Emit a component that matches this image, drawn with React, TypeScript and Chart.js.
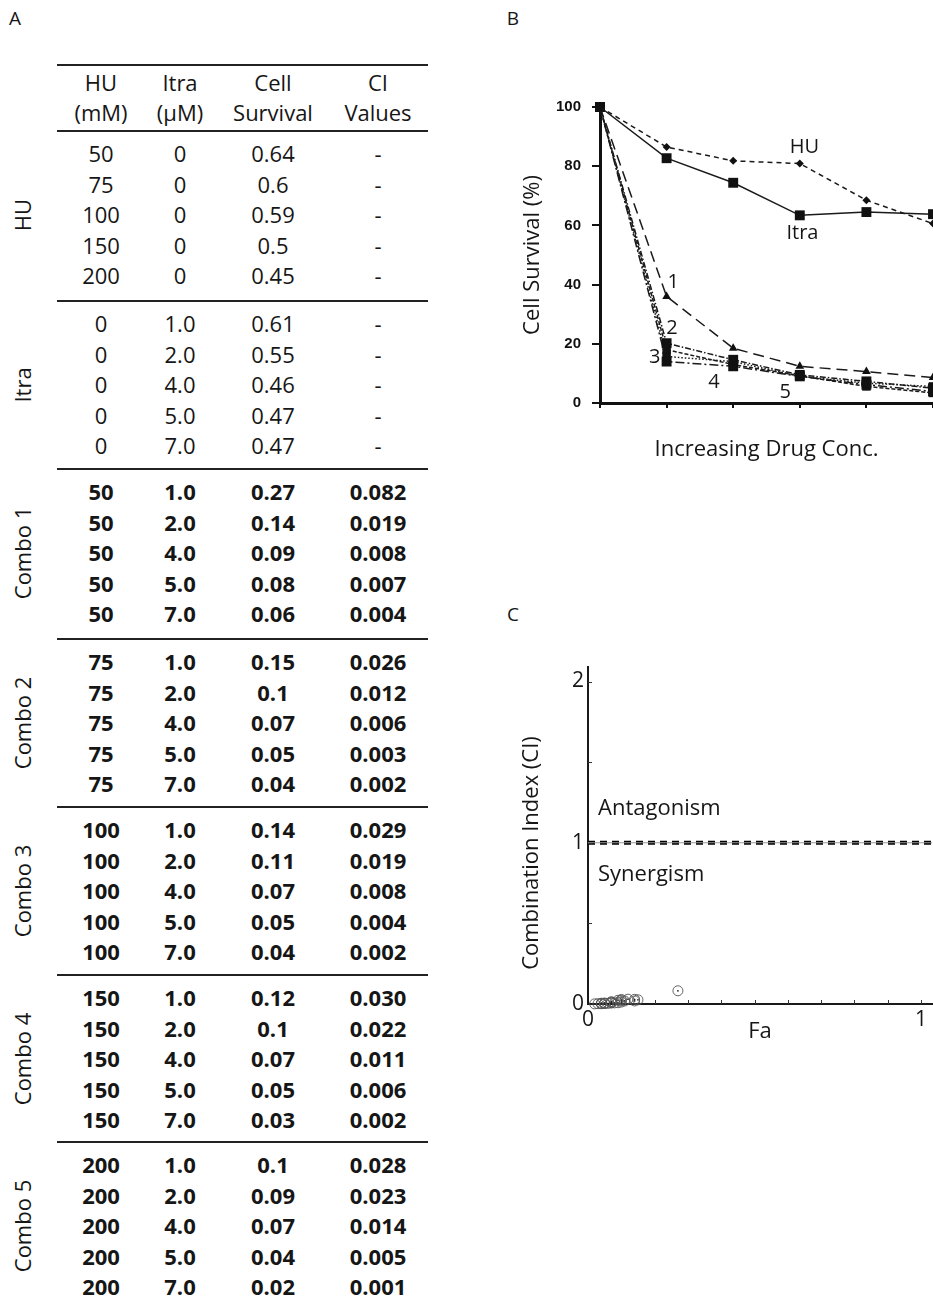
import React, { useEffect, useRef } from "react";
import { Chart, registerables } from "chart.js";

Chart.register(...registerables);

const FONT = '"Open Sans", "Noto Sans", sans-serif';
const INK = "#161616";

// ---------------- Panel A: table ----------------
const groupNames = ["HU", "Itra", "Combo 1", "Combo 2", "Combo 3", "Combo 4", "Combo 5"];
const boldGroups = [false, false, true, true, true, true, true];
const headerTop = ["HU", "Itra", "Cell", "CI"];
const headerBottom = ["(mM)", "(μM)", "Survival", "Values"];
const huConcMM = [
  "50", "75", "100", "150", "200",
  "0", "0", "0", "0", "0",
  "50", "50", "50", "50", "50",
  "75", "75", "75", "75", "75",
  "100", "100", "100", "100", "100",
  "150", "150", "150", "150", "150",
  "200", "200", "200", "200", "200",
];
const itraConcUM = [
  "0", "0", "0", "0", "0",
  "1.0", "2.0", "4.0", "5.0", "7.0",
  "1.0", "2.0", "4.0", "5.0", "7.0",
  "1.0", "2.0", "4.0", "5.0", "7.0",
  "1.0", "2.0", "4.0", "5.0", "7.0",
  "1.0", "2.0", "4.0", "5.0", "7.0",
  "1.0", "2.0", "4.0", "5.0", "7.0",
];
const cellSurvival = [
  0.64, 0.6, 0.59, 0.5, 0.45,
  0.61, 0.55, 0.46, 0.47, 0.47,
  0.27, 0.14, 0.09, 0.08, 0.06,
  0.15, 0.1, 0.07, 0.05, 0.04,
  0.14, 0.11, 0.07, 0.05, 0.04,
  0.12, 0.1, 0.07, 0.05, 0.03,
  0.1, 0.09, 0.07, 0.04, 0.02,
];
const ciValues = [
  "-", "-", "-", "-", "-",
  "-", "-", "-", "-", "-",
  "0.082", "0.019", "0.008", "0.007", "0.004",
  "0.026", "0.012", "0.006", "0.003", "0.002",
  "0.029", "0.019", "0.008", "0.004", "0.002",
  "0.030", "0.022", "0.011", "0.006", "0.002",
  "0.028", "0.023", "0.014", "0.005", "0.001",
];

// ---------------- Panel B: survival curves ----------------
const doseSteps = ["0", "1", "2", "3", "4", "5"];
const huPct = [100, 86.5, 81.8, 80.9, 68.5, 60.6];
const itraPct = [100, 82.7, 74.4, 63.4, 64.5, 63.8];
const combo1Pct = [100, 36, 18.5, 12.4, 10.6, 8.6];
const combo2Pct = [100, 20.2, 14.6, 9.5, 7.3, 5.0];
const combo3Pct = [100, 15.7, 14.0, 9.0, 6.7, 5.6];
const combo4Pct = [100, 14.0, 12.4, 9.0, 6.2, 3.9];
const combo5Pct = [100, 18.0, 13.0, 9.2, 5.6, 3.4];
const curveLabels = [
  { text: "HU", x: 3.07, y: 86.5 },
  { text: "Itra", x: 3.04, y: 57.4 },
  { text: "1", x: 1.1, y: 40.9 },
  { text: "2", x: 1.08, y: 25.3 },
  { text: "3", x: 0.82, y: 15.5 },
  { text: "4", x: 1.71, y: 7.1 },
  { text: "5", x: 2.78, y: 3.6 },
];

// ---------------- Panel C: CI plot ----------------
const ciThreshold = 1;
const faMax = 1.033;
const ciMax = 2.09;
const faTicks = [0, 0.1, 0.2, 0.3, 0.4, 0.5, 0.6, 0.7, 0.8, 0.9, 1.0];
const ciTicks = [0, 0.5, 1, 1.5, 2];
const regionLabels = [
  { text: "Antagonism", x: 0.03, y: 1.21 },
  { text: "Synergism", x: 0.03, y: 0.8 },
];

// ------------------------------------------------
const tableLines = [65, 131, 301, 469, 639, 807, 975, 1142];
const colCenters = [101, 180, 273, 378];

const curveLabelPlugin = {
  id: "curveLabels",
  afterDatasetsDraw(chart: any) {
    const { ctx } = chart;
    const xs = chart.scales.x;
    const ys = chart.scales.y;
    ctx.save();
    ctx.font = `20px ${FONT}`;
    ctx.fillStyle = INK;
    ctx.textAlign = "center";
    ctx.textBaseline = "middle";
    curveLabels.forEach((l) => ctx.fillText(l.text, xs.getPixelForValue(l.x), ys.getPixelForValue(l.y)));
    ctx.restore();
  },
};

const ciDecorPlugin = {
  id: "ciDecor",
  afterDraw(chart: any) {
    const { ctx, chartArea } = chart;
    const xs = chart.scales.x;
    const ys = chart.scales.y;
    ctx.save();
    ctx.strokeStyle = "#333";
    ctx.lineWidth = 1;
    faTicks.slice(1).forEach((v) => {
      const px = Math.round(xs.getPixelForValue(v)) + 0.5;
      ctx.beginPath();
      ctx.moveTo(px, chartArea.bottom);
      ctx.lineTo(px, chartArea.bottom - 4);
      ctx.stroke();
    });
    ciTicks.slice(1).forEach((v) => {
      const py = Math.round(ys.getPixelForValue(v)) + 0.5;
      ctx.beginPath();
      ctx.moveTo(chartArea.left, py);
      ctx.lineTo(chartArea.left + 4, py);
      ctx.stroke();
    });
    ctx.font = `22px ${FONT}`;
    ctx.fillStyle = INK;
    ctx.textAlign = "left";
    ctx.textBaseline = "middle";
    regionLabels.forEach((l) => ctx.fillText(l.text, xs.getPixelForValue(l.x), ys.getPixelForValue(l.y)));
    ctx.translate(chartArea.left - 56, chartArea.bottom - 151);
    ctx.rotate(-Math.PI / 2);
    ctx.textAlign = "center";
    ctx.fillText("Combination Index (CI)", 0, 0);
    ctx.restore();
  },
};

function survivalConfig(): any {
  const series = [
    { label: "HU", data: huPct, dash: [5, 4], style: "rectRot", r: 4 },
    { label: "Itra", data: itraPct, dash: [], style: "rect", r: 7 },
    { label: "Combo 1", data: combo1Pct, dash: [11, 6], style: "triangle", r: 5 },
    { label: "Combo 2", data: combo2Pct, dash: [6, 2, 1.5, 2], style: "rect", r: 7 },
    { label: "Combo 3", data: combo3Pct, dash: [1.5, 2], style: "rect", r: 6 },
    { label: "Combo 4", data: combo4Pct, dash: [9, 3, 2, 3], style: "rect", r: 7 },
    { label: "Combo 5", data: combo5Pct, dash: [4, 2], style: "rect", r: 6 },
  ];
  return {
    type: "line",
    data: {
      labels: doseSteps,
      datasets: series.map((s) => ({
        label: s.label,
        data: s.data,
        borderColor: "#1a1a1a",
        backgroundColor: "#111",
        borderWidth: 1.5,
        borderDash: s.dash,
        pointStyle: s.style,
        pointRadius: s.r,
        pointBorderWidth: 0,
        tension: 0,
        clip: false,
      })),
    },
    options: {
      responsive: false,
      animation: false,
      devicePixelRatio: 1,
      layout: { padding: { top: 27, right: 27, left: 0, bottom: 0 } },
      plugins: { legend: { display: false }, tooltip: { enabled: false } },
      scales: {
        x: {
          type: "category",
          offset: false,
          afterFit: (s: any) => {
            s.height = 77;
          },
          ticks: { display: false },
          grid: { display: true, drawOnChartArea: false, drawTicks: true, tickLength: 5, lineWidth: 2, color: "#111" },
          border: { display: true, width: 3, color: "#111" },
          title: {
            display: true,
            text: "Increasing Drug Conc.",
            color: INK,
            font: { family: FONT, size: 22 },
            padding: { top: 0, bottom: 17 },
          },
        },
        y: {
          min: 0,
          max: 100,
          afterFit: (s: any) => {
            s.width = 100;
          },
          ticks: {
            stepSize: 20,
            color: "#111",
            padding: 11,
            font: { family: '"Liberation Sans", Arial, sans-serif', size: 15, weight: "bold" },
          },
          grid: { display: true, drawOnChartArea: false, drawTicks: true, tickLength: 8, lineWidth: 2, color: "#111" },
          border: { display: true, width: 3, color: "#111" },
          title: {
            display: true,
            text: "Cell Survival (%)",
            color: INK,
            font: { family: FONT, size: 22 },
            padding: { top: 20, bottom: 0 },
          },
        },
      },
    },
    plugins: [curveLabelPlugin],
  };
}

function ciConfig(): any {
  const comboPoints = cellSurvival
    .map((s, i) => ({ x: s, y: parseFloat(ciValues[i]) }))
    .filter((p) => !isNaN(p.y));
  const thresholdLine = [
    { x: 0, y: ciThreshold },
    { x: faMax, y: ciThreshold },
  ];
  return {
    type: "scatter",
    data: {
      datasets: [
        { data: thresholdLine, showLine: true, borderColor: "#999", borderWidth: 1, pointRadius: 0 },
        {
          data: thresholdLine,
          showLine: true,
          borderColor: "#000",
          borderWidth: 4,
          borderDash: [7, 5],
          borderCapStyle: "butt",
          pointRadius: 0,
        },
        {
          data: comboPoints,
          pointStyle: "circle",
          pointRadius: 5,
          borderColor: "#555",
          pointBorderWidth: 0.9,
          backgroundColor: "rgba(0,0,0,0)",
          clip: false,
        },
        { data: comboPoints, pointRadius: 0.9, pointBorderWidth: 0, backgroundColor: "#222", clip: false },
      ],
    },
    options: {
      responsive: false,
      animation: false,
      devicePixelRatio: 1,
      layout: { padding: { top: 47, right: 8, left: 0, bottom: 0 } },
      plugins: { legend: { display: false }, tooltip: { enabled: false } },
      scales: {
        x: {
          type: "linear",
          min: 0,
          max: faMax,
          afterFit: (s: any) => {
            s.height = 56;
          },
          afterBuildTicks: (s: any) => {
            s.ticks = faTicks.map((v) => ({ value: v }));
          },
          ticks: {
            autoSkip: false,
            maxRotation: 0,
            padding: 3,
            color: INK,
            font: { family: FONT, size: 21 },
            callback: (v: number) => (v === 0 ? "0" : v === 1 ? "1" : ""),
          },
          grid: { display: false, drawTicks: false },
          border: { display: true, width: 2, color: "#1a1a1a" },
          title: {
            display: true,
            text: "Fa",
            color: INK,
            font: { family: FONT, size: 22 },
            padding: { top: 0, bottom: 15 },
          },
        },
        y: {
          type: "linear",
          min: 0,
          max: ciMax,
          afterFit: (s: any) => {
            s.width = 88;
          },
          afterBuildTicks: (s: any) => {
            s.ticks = ciTicks.map((v) => ({ value: v }));
          },
          ticks: {
            autoSkip: false,
            padding: 4,
            color: INK,
            font: { family: FONT, size: 21 },
            callback: (v: number) => (Number.isInteger(v) ? String(v) : ""),
          },
          grid: { display: false, drawTicks: false },
          border: { display: true, width: 2, color: "#1a1a1a" },
        },
      },
    },
    plugins: [ciDecorPlugin],
  };
}

function ChartBox({ make, left, top, width, height }: any) {
  const ref = useRef<HTMLCanvasElement>(null);
  useEffect(() => {
    const chart = new Chart(ref.current as HTMLCanvasElement, make());
    return () => chart.destroy();
  }, []);
  return (
    <canvas
      ref={ref}
      width={width}
      height={height}
      style={{ position: "absolute", left, top, width, height }}
    />
  );
}

function Txt({ x, y, children, bold, size = 22 }: any) {
  return (
    <div
      style={{
        position: "absolute",
        left: x - 70,
        top: y - 13.5,
        width: 140,
        textAlign: "center",
        fontFamily: FONT,
        fontSize: size,
        lineHeight: "26px",
        fontWeight: bold ? 700 : 400,
        color: INK,
        whiteSpace: "nowrap",
      }}
    >
      {children}
    </div>
  );
}

export default function App() {
  const rows = cellSurvival.map((s, i) => {
    const g = Math.floor(i / 5);
    const k = i % 5;
    const cy = tableLines[g + 1] + 22.5 + k * 30.6;
    const bold = boldGroups[g];
    return (
      <React.Fragment key={i}>
        <Txt x={colCenters[0]} y={cy} bold={bold}>{huConcMM[i]}</Txt>
        <Txt x={colCenters[1]} y={cy} bold={bold}>{itraConcUM[i]}</Txt>
        <Txt x={colCenters[2]} y={cy} bold={bold}>{String(s)}</Txt>
        <Txt x={colCenters[3]} y={cy} bold={bold}>{ciValues[i]}</Txt>
      </React.Fragment>
    );
  });

  const groupLabels = groupNames.map((name, g) => {
    const cy = tableLines[g + 1] + 22.5 + 2 * 30.6;
    return (
      <div
        key={name}
        style={{
          position: "absolute",
          left: 22,
          top: cy,
          transform: "translate(-50%, -50%) rotate(-90deg)",
          fontFamily: FONT,
          fontSize: 22,
          lineHeight: "26px",
          color: INK,
          whiteSpace: "nowrap",
        }}
      >
        {name}
      </div>
    );
  });

  const lines = tableLines.map((y, i) => (
    <div
      key={i}
      style={{ position: "absolute", left: 57, top: y - 1, width: 371, height: 2, background: "#222" }}
    />
  ));

  const letter = (t: string, x: number, y: number) => (
    <div
      style={{
        position: "absolute",
        left: x - 10,
        top: y - 13,
        width: 20,
        textAlign: "center",
        fontFamily: FONT,
        fontSize: 19,
        lineHeight: "26px",
        color: INK,
      }}
    >
      {t}
    </div>
  );

  return (
    <div
      style={{
        position: "absolute",
        left: 0,
        top: 0,
        width: 933,
        height: 1303,
        overflow: "hidden",
        background: "#fff",
      }}
    >
      {letter("A", 15, 18)}
      {letter("B", 513, 18)}
      {letter("C", 513, 614)}
      {lines}
      {headerTop.map((h, c) => (
        <Txt key={"ht" + c} x={colCenters[c]} y={82}>{h}</Txt>
      ))}
      {headerBottom.map((h, c) => (
        <Txt key={"hb" + c} x={colCenters[c]} y={112}>{h}</Txt>
      ))}
      {rows}
      {groupLabels}
      <ChartBox make={survivalConfig} left={500} top={80} width={460} height={400} />
      <ChartBox make={ciConfig} left={500} top={620} width={440} height={440} />
    </div>
  );
}
